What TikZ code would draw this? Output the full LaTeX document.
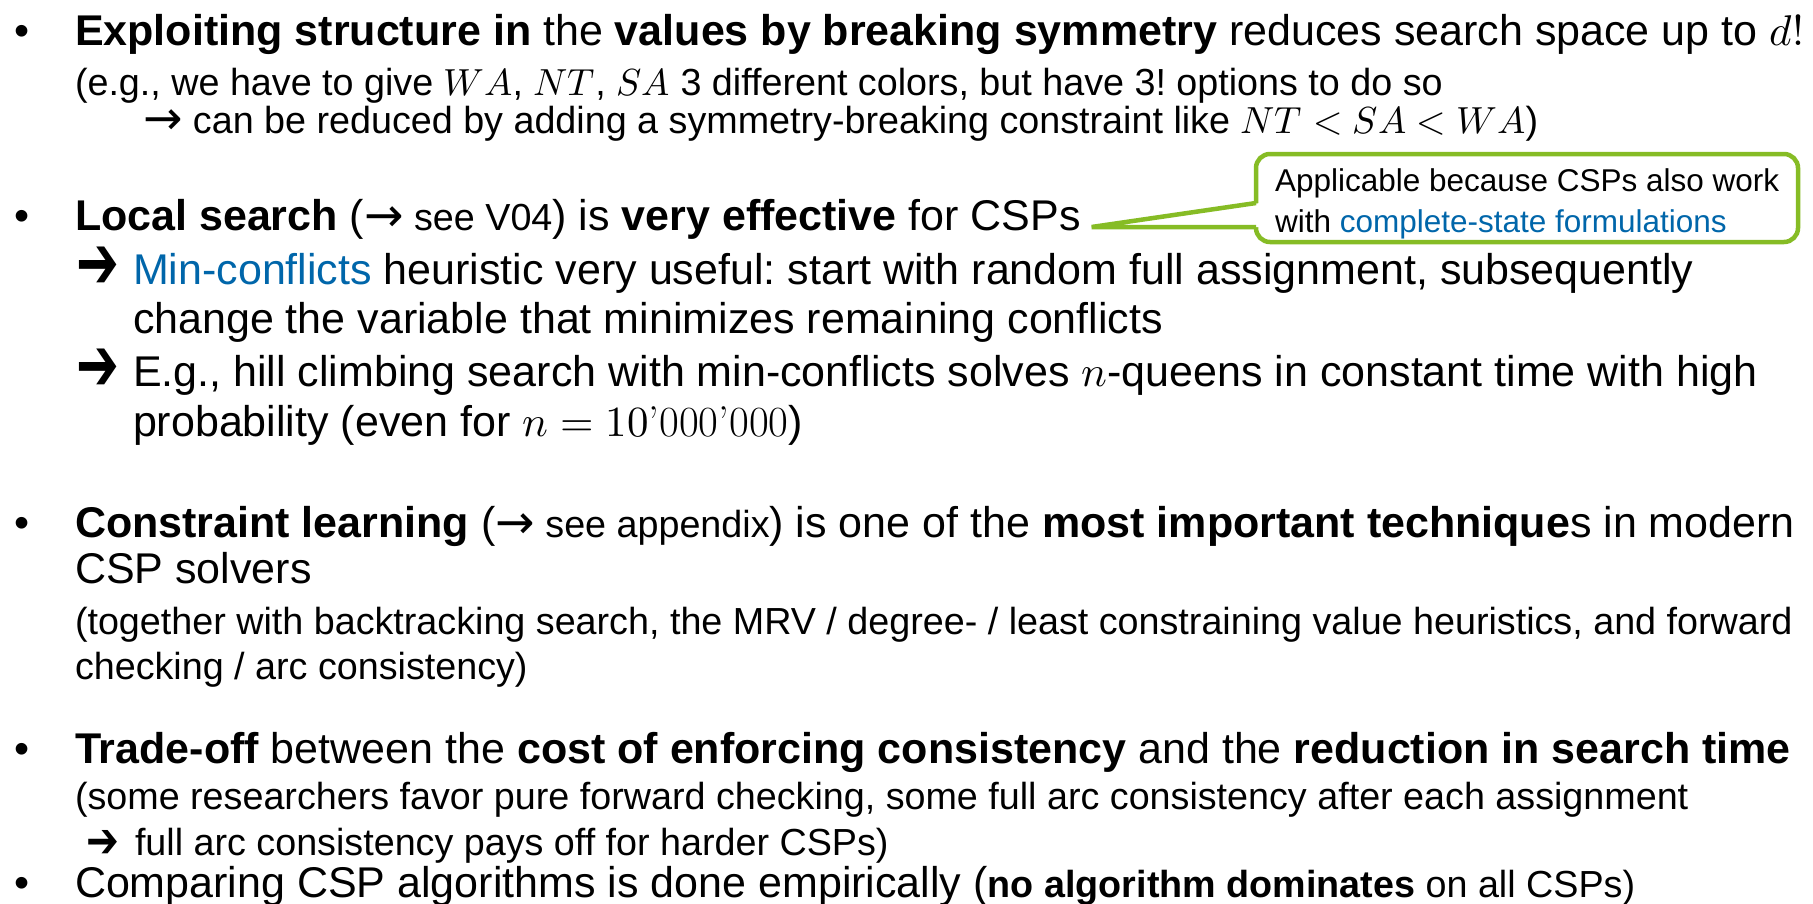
\documentclass[tikz,border=0pt]{standalone}
\usepackage{fontspec}
\usepackage{unicode-math}
\setsansfont{Liberation Sans}
\newfontfamily\dejavu{DejaVu Sans}
\usetikzlibrary{calc}
\definecolor{calloutgreen}{RGB}{134,188,37}
\definecolor{linkblue}{RGB}{0,102,170}
\newcommand\mainsz{\fontsize{43}{48}\selectfont}
\newcommand\subsz{\fontsize{37.7}{43}\selectfont}
\newcommand\notesz{\fontsize{31.5}{36}\selectfont}
% heavy arrow: #1 = x scale, #2 = y scale, #3 = lowering
\newcommand\harr[3]{\raisebox{-#3}[0.68em][0pt]{\scalebox{#1}[#2]{\dejavu ➔}}}
\newcommand\tarr{\raisebox{-0.04em}{\scalebox{1.25}{\dejavu →}}}
\begin{document}
\frenchspacing
\begin{tikzpicture}[x=1pt,y=-1pt,
  every node/.style={inner sep=0pt,outer sep=0pt,anchor=base west},
  mainline/.style={font=\sffamily\mainsz},
  subline/.style={font=\sffamily\subsz},
  notetext/.style={font=\sffamily\notesz},
  notebox/.style={draw=calloutgreen,line width=4.5pt,rounded corners=14pt,fill=white,anchor=north west},
  pointer/.style={draw=calloutgreen,line width=4.5pt,line join=miter}]
\useasboundingbox (0,0) rectangle (1813,903);
\fill[white] (0,0) rectangle (1813,903);

% bullet 1
\node[mainline] (b1) at (14,45) {•};
\node[mainline] (l1) at (75,45) {\textbf{Exploiting structure in} the \textbf{values by breaking symmetry} reduces search space up to $d!$};
\node[subline] (l2) at (75,95) {(e.g., we have to give $WA$, $NT$, $SA$ 3 different colors, but have 3! options to do so};
\node[subline] (l3) at (143,133) {\tarr\ can be reduced by adding a symmetry-breaking constraint like $NT < SA < WA$)};

% bullet 2
\node[mainline] (b2) at (14,230) {•};
\node[mainline] (l4) at (75,230) {\textbf{Local search} ({\subsz\tarr\ see V04}) is \textbf{very effective} for CSPs};
\node[mainline] (a5) at (76,284) {\harr{1.19}{1.75}{4pt}};
\node[mainline] (l5) at (133,284) {\textcolor{linkblue}{Min-conflicts} heuristic very useful: start with random full assignment, subsequently};
\node[mainline] (l6) at (133,333) {change the variable that minimizes remaining conflicts};
\node[mainline] (a7) at (76,386) {\harr{1.19}{1.75}{4pt}};
\node[mainline] (l7) at (133,386) {E.g., hill climbing search with min-conflicts solves $n$-queens in constant time with high};
\node[mainline] (l8) at (133,436) {probability (even for {\rmfamily$n = 10$’000’000})};

% callout
\node[notebox, minimum width=542pt, minimum height=88pt] (note) at (1256,154) {};
\coordinate (tip) at ($(l4.base east)+(11,-3)$);
\coordinate (pa) at ($(note.north west)+(0,49)$);
\coordinate (pb) at ($(note.north west)+(0,73)$);
\fill[white] ($(pa)+(4,0)$) -- (tip) -- ($(pb)+(4,0)$) -- cycle;
\draw[pointer] (pa) -- (tip) -- (pb);
\node[notetext] (n1) at (1275,191) {Applicable because CSPs also work};
\node[notetext] (n2) at (1275,232) {with \textcolor{linkblue}{complete-state formulations}};

% bullet 3
\node[mainline] (b3) at (14,537) {•};
\node[mainline] (l9) at (75,537) {\textbf{Constraint learning} ({\subsz\tarr\ see appendix}) is one of the \textbf{most important technique}s in modern};
\node[mainline] (l10) at (75,583) {CSP solvers};
\node[subline] (l11) at (75,634) {(together with backtracking search, the MRV / degree- / least constraining value heuristics, and forward};
\node[subline] (l12) at (75,679) {checking / arc consistency)};

% bullet 4
\node[mainline] (b4) at (14,763) {•};
\node[mainline] (l13) at (75,763) {\textbf{Trade-off} between the \textbf{cost of enforcing consistency} and the \textbf{reduction in search time}};
\node[subline] (l14) at (75,809) {(some researchers favor pure forward checking, some full arc consistency after each assignment};
\node[subline] (a15) at (86,855) {\harr{1.04}{1.3}{2pt}};
\node[subline] (l15) at (135,855) {full arc consistency pays off for harder CSPs)};

% bullet 5
\node[mainline] (b5) at (14,897) {•};
\node[mainline] (l16) at (75,897) {Comparing CSP algorithms is done empirically ({\subsz\textbf{no algorithm dominates} on all CSPs)}};
\end{tikzpicture}
\end{document}
